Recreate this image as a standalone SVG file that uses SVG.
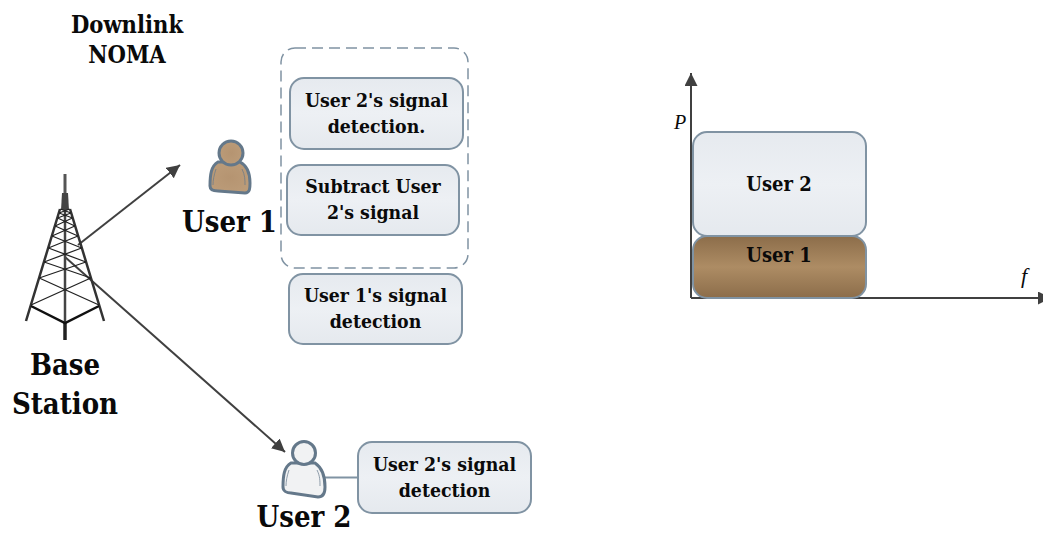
<svg xmlns="http://www.w3.org/2000/svg" width="1043" height="533" viewBox="0 0 1043 533">
<defs>
<style>
text{font-family:"DejaVu Serif Condensed","DejaVu Serif","Liberation Serif",serif;font-weight:bold;fill:#0a0a0a;text-anchor:middle}
.b{font-size:19.3px}.r{font-size:20px}.l{font-size:29px}.d{font-size:23.5px}
.box{fill:url(#g);stroke:#8093a3;stroke-width:2}
.i{font-family:"Liberation Serif",serif;font-style:italic;font-weight:normal;font-size:20px}
.f{font-size:22px}
.c{stroke:#404040;fill:none;stroke-width:2}
.t{stroke:#222;fill:none;stroke-width:1.3}
.p1{fill:url(#bp);stroke:#64788a;stroke-width:3}
.p2{fill:#f1f2f3;stroke:#64788a;stroke-width:3}
.in{fill:none;stroke:#64788a;stroke-width:1;opacity:.7}
</style>
<linearGradient id="g" x1="0" y1="0" x2="0" y2="1"><stop offset="0" stop-color="#e6eaef"/><stop offset=".5" stop-color="#edf0f4"/><stop offset="1" stop-color="#e5e9ee"/></linearGradient>
<linearGradient id="br" x1="0" y1="0" x2="0" y2="1"><stop offset="0" stop-color="#8c6d4a"/><stop offset=".5" stop-color="#ad8c64"/><stop offset="1" stop-color="#8c6d4a"/></linearGradient>
<radialGradient id="bp"><stop offset="0" stop-color="#b59471"/><stop offset="1" stop-color="#bb9b78"/></radialGradient>
<marker id="a" markerUnits="userSpaceOnUse" markerWidth="14" markerHeight="14" refX="13" refY="6.500" orient="auto"><path d="M0 0L13 6.500L0 13z" fill="#404040"/></marker>
</defs>

<g id="connectors">
<path class="c" d="M78 245L180 165" marker-end="url(#a)"/>
<path class="c" d="M65 257L285 452" marker-end="url(#a)"/>
<path d="M325 477.500H358" stroke="#8093a3" stroke-width="2" fill="none"/>
<path class="c" d="M691 298V73" marker-end="url(#a)"/>
<path class="c" d="M691 298H1051" marker-end="url(#a)"/>
</g>

<g id="base-station">
<path d="M65 174V196" stroke="#555" stroke-width="3" fill="none"/>
<path d="M61 210L62 193H68L69 210z" fill="#444"/>
<path d="M60 209L26 321M70 209L104 321" stroke="#333" stroke-width="2.500" fill="none"/>
<path d="M65 205V323" stroke="#444" stroke-width="2.500" fill="none"/>
<path d="M65 323V340" stroke="#222" stroke-width="3.500" fill="none"/>
<path d="M31 306L65 323L99 306" stroke="#111" stroke-width="2.500" fill="none"/>
<path class="t" d="M31 305L90.800 278M99 305L39.200 278M39.200 278L85.900 262M90.800 278L44.100 262M44.100 262L81.600 248M85.900 262L48.400 248M48.400 248L78 236M81.600 248L52 236M52 236L74.900 226M78 236L55.100 226M55.100 226L72.400 218M74.900 226L57.600 218M57.600 218L70.900 213M72.400 218L59.100 213M59.100 213L69.700 209M70.900 213L60.300 209"/>
<text class="l" x="65" y="375">Base</text>
<text class="l" x="65" y="414">Station</text>
</g>

<g id="user-1">
<path class="p1" d="M218 162C211 166 210 175 210 186C210 190 214 191 218 191L245 193C250 193 250 188 250 183C250 172 246 165 240 162z"/>
<path class="in" d="M216 169C214 175 213 180 213 185M242 169C245 175 245 180 245 185"/>
<circle class="p1" cx="231" cy="153" r="12"/>
<text class="l" x="229.500" y="232">User 1</text>
</g>

<g id="user-2">
<path class="p2" d="M291 463C284 467 283 476 283 487C283 491 287 493 291 493L318 497C324 497 325 492 325 487C325 475 321 467 315 463z"/>
<path class="in" d="M289 470C287 476 286 481 286 486M317 470C320 476 320 481 320 486"/>
<circle class="p2" cx="304" cy="453" r="11.500"/>
<text class="l" x="304" y="527">User 2</text>
</g>

<g id="downlink-noma">
<text class="d" x="127" y="33">Downlink</text>
<text class="d" x="127" y="63">NOMA</text>
</g>

<g id="sic-group">
<rect x="281" y="48" width="187" height="220" rx="14" fill="none" stroke="#8093a3" stroke-width="1.500" stroke-dasharray="11 6"/>
</g>

<g id="user2-detection-a">
<rect class="box" x="290" y="78" width="173" height="71" rx="14"/>
<text class="b" x="376.500" y="107">User 2's signal</text>
<text class="b" x="376.500" y="133">detection.</text>
</g>
<g id="subtract">
<rect class="box" x="287" y="165" width="172" height="70" rx="14"/>
<text class="b" x="373" y="193">Subtract User</text>
<text class="b" x="373" y="219">2's signal</text>
</g>
<g id="user1-detection">
<rect class="box" x="289" y="274" width="173" height="70" rx="14"/>
<text class="b" x="375.500" y="302">User 1's signal</text>
<text class="b" x="375.500" y="328">detection</text>
</g>
<g id="user2-detection-b">
<rect class="box" x="358" y="442" width="173" height="71" rx="14"/>
<text class="b" x="444.500" y="471">User 2's signal</text>
<text class="b" x="444.500" y="497">detection</text>
</g>

<g id="power-user-2">
<rect class="box" x="693" y="132" width="173" height="104" rx="14"/>
<text class="r" x="779" y="191">User 2</text>
</g>
<g id="power-user-1">
<rect x="693" y="236" width="173" height="62" rx="14" fill="url(#br)" stroke="#8093a3" stroke-width="2"/>
<text class="r" x="779" y="262">User 1</text>
</g>
<g id="axis-labels">
<text class="i" x="680" y="129">P</text>
<text class="i f" x="1024" y="283">f</text>
</g>
</svg>
